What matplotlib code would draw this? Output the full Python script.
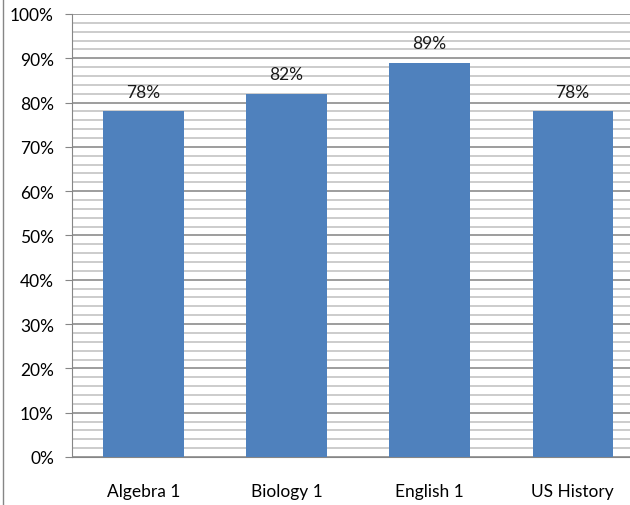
import matplotlib
matplotlib.use('Agg')
import matplotlib.pyplot as plt
from matplotlib.lines import Line2D
from matplotlib.ticker import MultipleLocator, PercentFormatter

# chart data
subjects = ['Algebra 1', 'Biology 1', 'English 1', 'US History']
scores = [78, 82, 89, 78]

plt.rcParams['font.family'] = ['Lato', 'DejaVu Sans']

fig = plt.figure(figsize=(6.30, 5.06), dpi=100)
ax = fig.add_axes([0.1143, 0.0949, 0.908, 0.8755])

bars = ax.bar(range(len(subjects)), scores, width=0.56, color='#4F81BD', zorder=3)
for b, v in zip(bars, scores):
    ax.text(b.get_x() + b.get_width() / 2, v + 2.6, f'{v}%', ha='center', va='bottom',
            fontsize=12.5, color='#1a1a1a')

ax.set_xlim(-0.5, len(subjects) - 0.5)
ax.set_ylim(0, 100)
ax.set_xticks(range(len(subjects)))
ax.set_xticklabels(subjects, fontsize=12.5)
ax.yaxis.set_major_locator(MultipleLocator(10))
ax.yaxis.set_minor_locator(MultipleLocator(2))
ax.yaxis.set_major_formatter(PercentFormatter(decimals=0))
ax.tick_params(axis='y', which='major', labelsize=12.5, length=5, color='#868686', pad=8)
ax.tick_params(axis='y', which='minor', length=0)
ax.tick_params(axis='x', length=0, pad=19)

ax.grid(which='minor', axis='y', color='#c4c4c4', linewidth=1.2, zorder=1)
ax.grid(which='major', axis='y', color='#8c8c8c', linewidth=1.2, zorder=2)

for s in ['top', 'right']:
    ax.spines[s].set_visible(False)
ax.spines['left'].set_color('#868686')
ax.spines['bottom'].set_color('#868686')

# outer chart border on the left
fig.add_artist(Line2D([0.005, 0.005], [0, 1], transform=fig.transFigure, color='#868686', linewidth=1))

fig.savefig('out.png', dpi=100)
